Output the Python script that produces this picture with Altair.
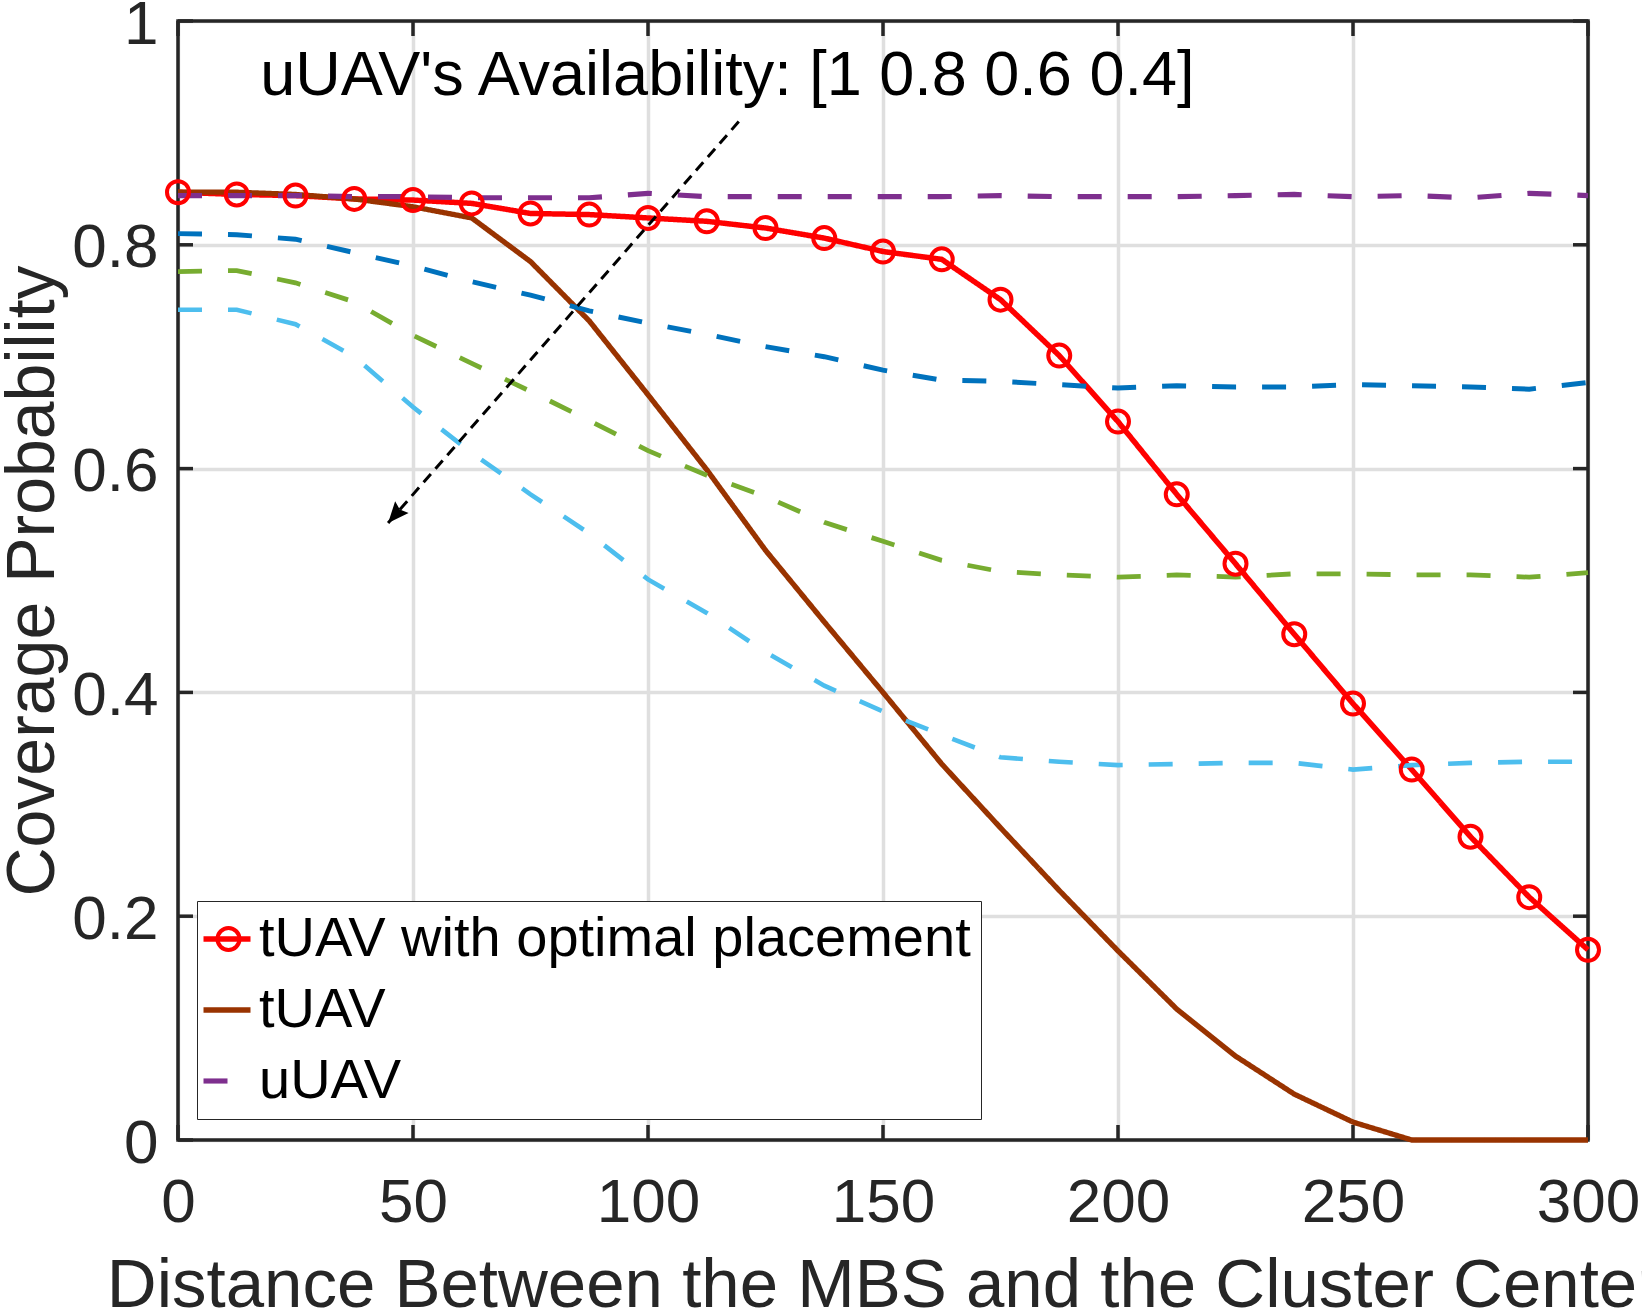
import altair as alt
import pandas as pd

FONT = "Liberation Sans"
AXIS_INK = "#262626"

# Distance between the MBS and the cluster center (m)
distance = [0, 12.5, 25, 37.5, 50, 62.5, 75, 87.5, 100, 112.5, 125, 137.5, 150,
            162.5, 175, 187.5, 200, 212.5, 225, 237.5, 250, 262.5, 275, 287.5, 300]

# Coverage probability curves
tuav_optimal = [0.847, 0.845, 0.844, 0.841, 0.840, 0.837, 0.828, 0.827, 0.824, 0.821,
                0.815, 0.806, 0.794, 0.787, 0.751, 0.701, 0.642, 0.577, 0.515, 0.452,
                0.390, 0.331, 0.271, 0.217, 0.170]
tuav = [0.847, 0.847, 0.845, 0.841, 0.834, 0.824, 0.785, 0.732, 0.666, 0.599,
        0.527, 0.463, 0.400, 0.336, 0.279, 0.223, 0.169, 0.117, 0.075, 0.041,
        0.016, 0.0, 0.0, 0.0, 0.0]
uuav_a10 = [0.844, 0.844, 0.844, 0.843, 0.843, 0.842, 0.842, 0.842, 0.846, 0.843,
            0.843, 0.843, 0.843, 0.843, 0.844, 0.843, 0.843, 0.843, 0.844, 0.845,
            0.843, 0.844, 0.842, 0.846, 0.844]
uuav_a08 = [0.810, 0.809, 0.805, 0.793, 0.781, 0.767, 0.755, 0.741, 0.730, 0.720,
            0.709, 0.700, 0.688, 0.679, 0.678, 0.675, 0.672, 0.674, 0.673, 0.673,
            0.675, 0.674, 0.673, 0.671, 0.677]
uuav_a06 = [0.776, 0.777, 0.766, 0.749, 0.719, 0.694, 0.669, 0.643, 0.616, 0.594,
            0.575, 0.552, 0.535, 0.518, 0.508, 0.505, 0.503, 0.505, 0.503, 0.506,
            0.506, 0.505, 0.505, 0.503, 0.507]
uuav_a04 = [0.742, 0.742, 0.729, 0.700, 0.655, 0.614, 0.577, 0.542, 0.501, 0.471,
            0.436, 0.406, 0.383, 0.362, 0.342, 0.338, 0.335, 0.336, 0.337, 0.337,
            0.331, 0.335, 0.337, 0.338, 0.338]

series_names = ["tUAV with optimal placement", "tUAV", "uUAV",
                "uUAV (0.8)", "uUAV (0.6)", "uUAV (0.4)"]
series_values = [tuav_optimal, tuav, uuav_a10, uuav_a08, uuav_a06, uuav_a04]
series_colors = ["#FF0000", "#993300", "#7E2F8E", "#0072BD", "#77AC30", "#4DBEEE"]
series_dashes = [[1, 0], [1, 0], [24, 26], [24, 26], [24, 26], [24, 26]]
series_widths = [5.5, 4.6, 5.5, 5.5, 5.5, 5.5]
legend_entries = series_names[:3]

x_ticks = [0, 50, 100, 150, 200, 250, 300]
y_ticks = [0, 0.2, 0.4, 0.6, 0.8, 1]

# Annotation: arrow showing decreasing availability, and its caption
arrow_x = [119.6, 44.7]
arrow_y = [0.9115, 0.5514]
note_text = ["uUAV's Availability: [1 0.8 0.6 0.4]"]
note_x = [17.5]
note_y = [0.934]

X_TITLE = "Distance Between the MBS and the Cluster Center"
Y_TITLE = "Coverage Probability"
W, H = 1410, 1119
TICK_LEN = 15
LEGEND_X, LEGEND_Y = 19, 880
LINE_SYMBOL = 2209      # 47 px long legend line samples
MARKER_SIZE = 484       # 22 px circle markers

rows = []
for name, vals in zip(series_names, series_values):
    for d, v in zip(distance, vals):
        rows.append({"distance": d, "coverage": v, "series": name})
curves = pd.DataFrame(rows)
optimal = curves[curves["series"] == series_names[0]].copy()
optimal["marker"] = series_names[0]

x_scale = alt.Scale(domain=[x_ticks[0], x_ticks[-1]], nice=False, zero=False)
y_scale = alt.Scale(domain=[y_ticks[0], y_ticks[-1]], nice=False, zero=False)

x_axis = alt.Axis(
    values=x_ticks, grid=True, gridColor="#dfdfdf", gridWidth=3.5,
    domain=False, ticks=False, labelFont=FONT, labelFontSize=62,
    labelColor=AXIS_INK, labelPadding=32, labelFlush=False, labelOverlap=False,
    titleFont=FONT, titleFontSize=69, titleFontWeight="normal", titleColor=AXIS_INK,
    titleX=W / 2, titleY=166, titleAlign="center", titleBaseline="alphabetic",
)
y_axis = alt.Axis(
    values=y_ticks, format="~g", grid=True, gridColor="#dfdfdf", gridWidth=3.5,
    domain=False, ticks=False, labelFont=FONT, labelFontSize=62,
    labelColor=AXIS_INK, labelPadding=20, labelOffset=3, labelOverlap=False,
    labelFlush=False,
    titleFont=FONT, titleFontSize=68, titleFontWeight="normal", titleColor=AXIS_INK,
    titleX=-125, titleY=H / 2, titleAngle=270, titleAlign="center",
    titleBaseline="alphabetic",
)


def xq(field):
    return alt.X(field, scale=x_scale, axis=x_axis, title=X_TITLE)


def yq(field):
    return alt.Y(field, scale=y_scale, axis=y_axis, title=Y_TITLE)


line_legend = alt.Legend(
    title=None, orient="none", legendX=LEGEND_X, legendY=LEGEND_Y, values=legend_entries,
    direction="vertical", fillColor="white", strokeColor=AXIS_INK, padding=10,
    cornerRadius=0, labelFont=FONT, labelFontSize=56, labelColor="black",
    labelLimit=2000, labelOffset=4, symbolOffset=-8, symbolType="stroke",
    symbolSize=LINE_SYMBOL, symbolStrokeWidth=5, rowPadding=15, zindex=1,
)

# Circle marker laid over the first legend sample (same row metrics, no visible label)
marker_legend = alt.Legend(
    title=None, orient="none", legendX=LEGEND_X - 6.5, legendY=LEGEND_Y,
    direction="vertical", padding=10, fillColor="transparent",
    strokeColor="transparent", labelFont=FONT, labelFontSize=56, labelOpacity=0,
    labelLimit=2000, symbolSize=MARKER_SIZE, symbolStrokeWidth=4,
    symbolStrokeColor="#FF0000", symbolFillColor="transparent", symbolType="circle",
    rowPadding=15, zindex=2,
)

# Axes box
frame = alt.Chart(pd.DataFrame({"x0": [x_ticks[0]], "x1": [x_ticks[-1]],
                                "y0": [y_ticks[0]], "y1": [y_ticks[-1]]})).mark_rect(
    fillOpacity=0, stroke=AXIS_INK, strokeWidth=3.5
).encode(x=xq("x0:Q"), x2="x1:Q", y=yq("y0:Q"), y2="y1:Q")

# Inward tick marks on all four sides
xt = pd.DataFrame({"t": x_ticks})
yt = pd.DataFrame({"t": y_ticks})
tick_style = dict(color=AXIS_INK, strokeWidth=3.5)
ticks_bottom = alt.Chart(xt).mark_rule(**tick_style).encode(
    x=xq("t:Q"), y=alt.value(H), y2=alt.value(H - TICK_LEN))
ticks_top = alt.Chart(xt).mark_rule(**tick_style).encode(
    x=xq("t:Q"), y=alt.value(0), y2=alt.value(TICK_LEN))
ticks_left = alt.Chart(yt).mark_rule(**tick_style).encode(
    y=yq("t:Q"), x=alt.value(0), x2=alt.value(TICK_LEN))
ticks_right = alt.Chart(yt).mark_rule(**tick_style).encode(
    y=yq("t:Q"), x=alt.value(W), x2=alt.value(W - TICK_LEN))

lines = alt.Chart(curves).mark_line().encode(
    x=xq("distance:Q"),
    y=yq("coverage:Q"),
    color=alt.Color("series:N", scale=alt.Scale(domain=series_names, range=series_colors),
                    legend=line_legend),
    strokeDash=alt.StrokeDash("series:N",
                              scale=alt.Scale(domain=series_names, range=series_dashes),
                              legend=line_legend),
    strokeWidth=alt.StrokeWidth("series:N",
                                scale=alt.Scale(domain=series_names, range=series_widths),
                                legend=None),
)

markers = alt.Chart(optimal).mark_point(
    filled=False, color="#FF0000", size=MARKER_SIZE, strokeWidth=4, opacity=1
).encode(
    x=xq("distance:Q"),
    y=yq("coverage:Q"),
    shape=alt.Shape("marker:N", scale=alt.Scale(domain=[series_names[0]], range=["circle"]),
                    legend=marker_legend),
)

arrow_df = pd.DataFrame({"ax": arrow_x, "ay": arrow_y})
arrow_line = alt.Chart(arrow_df).mark_line(
    color="black", strokeWidth=3, strokeDash=[11, 7]
).encode(x=xq("ax:Q"), y=yq("ay:Q"))
arrow_head = alt.Chart(arrow_df.iloc[[1]]).mark_point(
    shape="M0,0L0.85,2L0,1.7L-0.85,2Z", filled=True, color="black", opacity=1,
    size=441, angle=221, strokeWidth=0
).encode(x=xq("ax:Q"), y=yq("ay:Q"))

note = alt.Chart(pd.DataFrame({"nx": note_x, "ny": note_y, "txt": note_text})).mark_text(
    align="left", baseline="alphabetic", font=FONT, fontSize=63, color="black"
).encode(x=xq("nx:Q"), y=yq("ny:Q"), text="txt:N")

chart = alt.layer(
    frame, ticks_bottom, ticks_top, ticks_left, ticks_right,
    lines, markers, arrow_line, arrow_head, note,
).properties(
    width=W, height=H,
    padding={"left": 178, "top": 21, "right": 54, "bottom": 169},
    autosize=alt.AutoSizeParams(type="none"),
    background="white",
).configure_view(stroke="transparent")

chart.save("out.html", embed_options={"renderer": "svg", "actions": False})
